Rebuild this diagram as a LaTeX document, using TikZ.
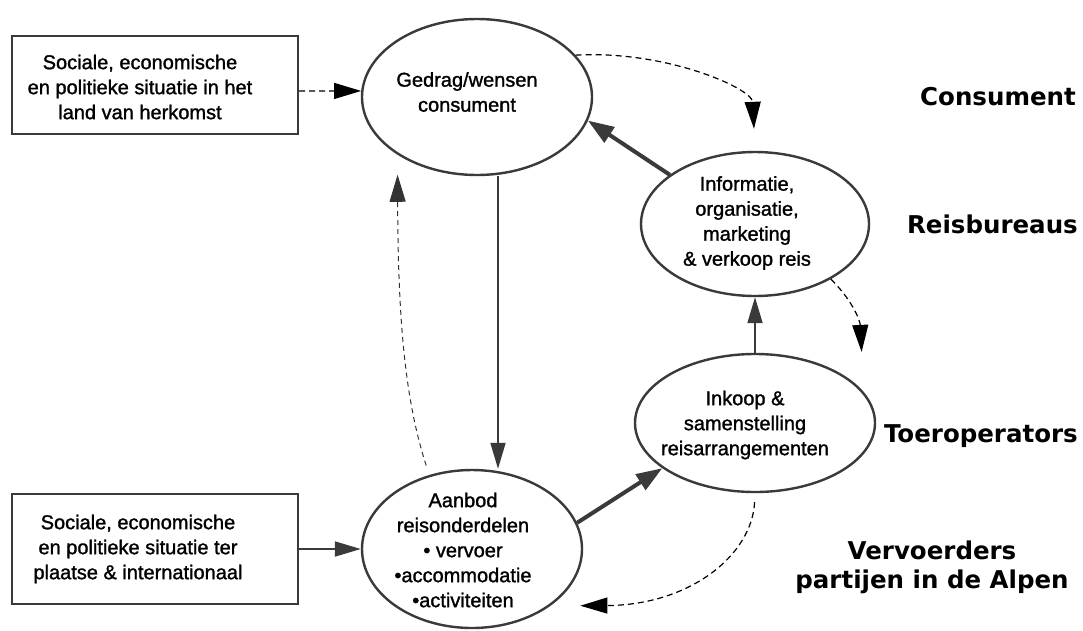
\documentclass[tikz,border=0pt]{standalone}
\usepackage{fontspec}
\setmainfont{Liberation Sans}
\newfontfamily\txtfont{Liberation Sans}[FakeBold=1.3]
\newfontfamily\labfont{DejaVu Sans}
\usetikzlibrary{shapes.geometric,arrows.meta}
\definecolor{ln}{HTML}{3A3A3A}
\begin{document}
\begin{tikzpicture}[x=1pt,y=-1pt,
 ell/.style={ellipse,draw=ln,line width=2.4pt,inner sep=0pt},
 box/.style={rectangle,draw=ln,line width=2.2pt,inner sep=0pt},
 txt/.style={align=center,font=\txtfont\fontsize{20}{25}\selectfont,inner sep=0pt},
 lab/.style={font=\labfont\bfseries\fontsize{24.5}{29}\selectfont,inner sep=0pt,align=center},
 sarrow/.style={draw=ln,line width=1.8pt,-{Triangle[length=26pt,width=15pt]}},
 tarrow/.style={draw=ln,line width=4pt,-{Triangle[length=26pt,width=18pt]}},
 darrow/.style={draw=black,line width=1.2pt,dash pattern=on 6pt off 4pt,-{Triangle[length=27pt,width=16pt]}},
 ldarrow/.style={draw=black!80,line width=1pt,dash pattern=on 5pt off 4pt,-{Triangle[length=27pt,width=16pt]}},
]
\useasboundingbox (0,0) rectangle (1083,630);
\fill[white] (0,0) rectangle (1083,630);

% boxes
\node[box,minimum width=286pt,minimum height=98pt] (box1) at (155,85) {};
\node[box,minimum width=286pt,minimum height=110pt] (box2) at (155,549) {};
\node[txt] (box1t) at (140,87) {Sociale, economische\\en politieke situatie in het\\land van herkomst};
\node[txt] (box2t) at (138,549) {Sociale, economische\\en politieke situatie ter\\plaatse \& internationaal};

% ellipses
\node[ell,minimum width=230pt,minimum height=156pt] (gedrag) at (477,97) {};
\node[ell,minimum width=228pt,minimum height=144pt] (info) at (755,224) {};
\node[ell,minimum width=240pt,minimum height=138pt] (inkoop) at (755,423) {};
\node[ell,minimum width=220pt,minimum height=158pt] (aanbod) at (472,549) {};

\node[txt] (gedragt) at (467,92) {Gedrag/wensen\\consument};
\node[txt] (infot) at (747,223) {Informatie,\\organisatie,\\marketing\\\& verkoop reis};
\node[txt] (inkoopt) at (745,425) {Inkoop \&\\samenstelling\\reisarrangementen};
\node[txt] (aanbodt) at (463,550) {Aanbod\\reisonderdelen\\\textbullet\ vervoer\\\textbullet accommodatie\\\textbullet activiteiten};

% right labels
\node[lab,anchor=east] (lc) at (1076,97) {Consument};
\node[lab,anchor=east] (lr) at (1078,224) {Reisbureaus};
\node[lab,anchor=east] (lt) at (1078,436) {Toeroperators};
\node[lab] (lv) at (932,567) {Vervoerders\\partijen in de Alpen};

% solid arrows
\draw[sarrow] ([xshift=21pt]gedrag.south) -- ([xshift=26pt]aanbod.north);
\draw[sarrow] (box2.east) -- (aanbod.west);
\draw[sarrow] (inkoop.north) -- (info.south);
\draw[tarrow] (info.150) -- (gedrag.-12);
\draw[tarrow] (aanbod.14) -- (inkoop.206);

% dashed arrows
\draw[darrow] ([yshift=-6pt]box1.east) -- (gedrag.177);
\draw[darrow,shorten >=22pt] (gedrag.23) .. controls (665,50) and (752,88) .. (info.north);
\draw[darrow,shorten >=40pt] (info.-36) .. controls (852,300) and (860,320) .. (inkoop.16);
\draw[darrow,shorten <=9pt,shorten >=30pt] (inkoop.south) .. controls (752,555) and (690,605) .. (aanbod.-36);
\draw[ldarrow,shorten <=10pt,shorten >=20pt] (aanbod.120) .. controls (405,400) and (398,320) .. (gedrag.216);
\end{tikzpicture}
\end{document}
